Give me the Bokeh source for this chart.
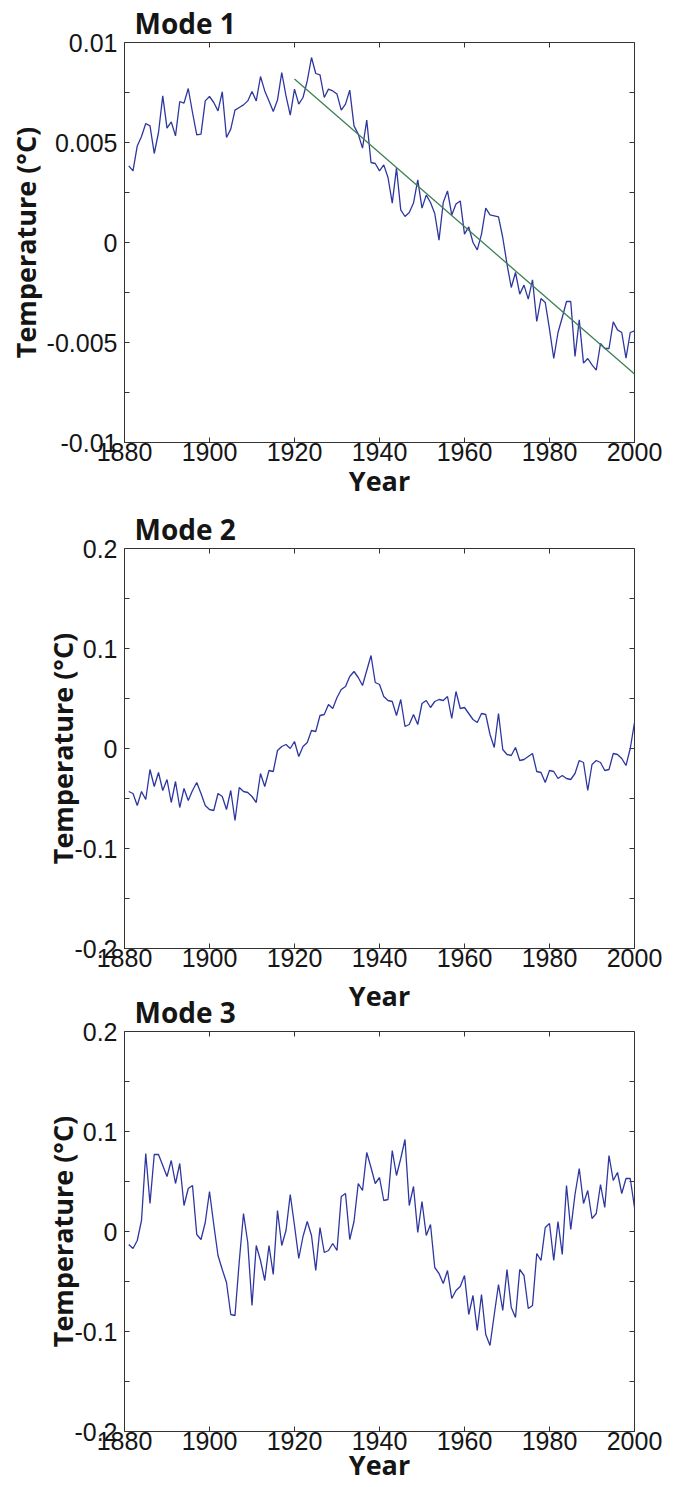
from math import pi
from bokeh.plotting import figure
from bokeh.layouts import column
from bokeh.models import Range1d, FixedTicker, Title
from bokeh.embed import file_html
from bokeh.resources import INLINE

# ---------------- data ----------------
years = list(range(1881, 2001))

mode1 = [
    0.00383, 0.00358, 0.00483, 0.00530, 0.00595, 0.00583, 0.00445, 0.00550, 0.00733, 0.00572,
    0.00603, 0.00533, 0.00705, 0.00697, 0.00770, 0.00650, 0.00538, 0.00542, 0.00708, 0.00730,
    0.00700, 0.00658, 0.00753, 0.00525, 0.00567, 0.00662, 0.00675, 0.00688, 0.00708, 0.00755,
    0.00708, 0.00830, 0.00758, 0.00708, 0.00655, 0.00712, 0.00850, 0.00733, 0.00637, 0.00767,
    0.00692, 0.00725, 0.00808, 0.00925, 0.00845, 0.00838, 0.00725, 0.00767, 0.00758, 0.00742,
    0.00662, 0.00692, 0.00762, 0.00583, 0.00542, 0.00472, 0.00612, 0.00400, 0.00395, 0.00358,
    0.00388, 0.00325, 0.00197, 0.00372, 0.00163, 0.00130, 0.00150, 0.00197, 0.00313, 0.00172,
    0.00237, 0.00200, 0.00145, 0.00012, 0.00200, 0.00258, 0.00138, 0.00192, 0.00208, 0.00042,
    0.00078, 0.00000, -0.00037, 0.00042, 0.00172, 0.00138, 0.00133, 0.00128, 0.00025, -0.00108,
    -0.00225, -0.00150, -0.00258, -0.00213, -0.00283, -0.00187, -0.00395, -0.00280, -0.00300, -0.00433,
    -0.00580, -0.00450, -0.00375, -0.00295, -0.00295, -0.00570, -0.00387, -0.00603, -0.00580, -0.00612,
    -0.00638, -0.00505, -0.00530, -0.00530, -0.00397, -0.00437, -0.00450, -0.00578, -0.00450, -0.00442,
]

trend_years = [1920, 2000]
trend_mode1 = [0.00817, -0.00658]

mode2 = [
    -0.043, -0.045, -0.057, -0.043, -0.051, -0.021, -0.038, -0.024, -0.042, -0.031,
    -0.054, -0.033, -0.059, -0.040, -0.052, -0.042, -0.034, -0.045, -0.057, -0.061,
    -0.062, -0.045, -0.048, -0.061, -0.042, -0.072, -0.039, -0.043, -0.044, -0.048,
    -0.054, -0.025, -0.038, -0.022, -0.023, -0.002, 0.002, 0.004, 0.000, 0.007,
    -0.008, 0.002, 0.006, 0.018, 0.017, 0.033, 0.034, 0.044, 0.040, 0.051,
    0.059, 0.062, 0.072, 0.077, 0.071, 0.063, 0.078, 0.093, 0.066, 0.064,
    0.052, 0.048, 0.047, 0.033, 0.049, 0.022, 0.024, 0.034, 0.024, 0.045,
    0.048, 0.041, 0.047, 0.049, 0.048, 0.052, 0.030, 0.057, 0.040, 0.041,
    0.035, 0.029, 0.026, 0.035, 0.034, 0.014, 0.001, 0.035, -0.001, -0.006,
    -0.007, 0.001, -0.012, -0.011, -0.008, -0.005, -0.023, -0.024, -0.034, -0.022,
    -0.023, -0.030, -0.027, -0.030, -0.031, -0.025, -0.012, -0.014, -0.042, -0.016,
    -0.012, -0.014, -0.022, -0.021, -0.005, -0.006, -0.010, -0.017, 0.000, 0.026,
]

mode3 = [
    -0.013, -0.017, -0.009, 0.011, 0.078, 0.028, 0.077, 0.077, 0.066, 0.055,
    0.071, 0.048, 0.068, 0.026, 0.043, 0.046, -0.003, -0.008, 0.009, 0.040,
    0.007, -0.024, -0.038, -0.051, -0.083, -0.084, -0.030, 0.018, -0.011, -0.074,
    -0.014, -0.029, -0.049, -0.014, -0.043, 0.021, -0.014, 0.001, 0.037, 0.006,
    -0.027, -0.005, 0.010, -0.004, -0.039, 0.004, -0.021, -0.019, -0.012, -0.019,
    0.035, 0.038, -0.008, 0.010, 0.048, 0.041, 0.079, 0.064, 0.048, 0.054,
    0.031, 0.032, 0.081, 0.056, 0.073, 0.092, 0.026, 0.045, -0.001, 0.030,
    -0.004, 0.007, -0.036, -0.042, -0.052, -0.039, -0.067, -0.059, -0.055, -0.044,
    -0.083, -0.064, -0.099, -0.063, -0.103, -0.114, -0.083, -0.053, -0.079, -0.038,
    -0.076, -0.086, -0.038, -0.044, -0.077, -0.074, -0.022, -0.029, 0.004, 0.008,
    -0.029, 0.010, -0.023, 0.046, 0.002, 0.037, 0.063, 0.028, 0.041, 0.013,
    0.018, 0.047, 0.024, 0.076, 0.051, 0.059, 0.038, 0.053, 0.053, 0.024,
]

titles = ["Mode 1", "Mode 2", "Mode 3"]
x_label = "Year"
y_label = "Temperature (°C)"

x_ticks = [1880, 1900, 1920, 1940, 1960, 1980, 2000]
x_tick_labels = ["1880", "1900", "1920", "1940", "1960", "1980", "2000"]

y1_ticks = [-0.01, -0.005, 0.0, 0.005, 0.01]
y1_tick_labels = ["-0.01", "-0.005", "0", "0.005", "0.01"]
y1_minor = [-0.0075, -0.0025, 0.0025, 0.0075]

y23_ticks = [-0.2, -0.1, 0.0, 0.1, 0.2]
y23_tick_labels = ["-0.2", "-0.1", "0", "0.1", "0.2"]
y23_minor = [-0.15, -0.05, 0.05, 0.15]

# ---------------- style ----------------
LINE_BLUE = "#2E37A0"
TREND_GREEN = "#3E8052"
FRAME = "#333333"
TEXT = "#151515"
TICK_FONT = "Liberation Sans"
LABEL_FONT = "Open Sans"


def style_axis(ax, ticks, labels, minor, standoff):
    ax.ticker = FixedTicker(ticks=ticks, minor_ticks=minor)
    ax.axis_line_color = None
    ax.major_tick_in = 5
    ax.major_tick_out = 0
    ax.minor_tick_in = 5
    ax.minor_tick_out = 0
    ax.major_tick_line_color = FRAME
    ax.minor_tick_line_color = FRAME
    ax.major_label_overrides = {t: l for t, l in zip(ticks, labels)}
    ax.major_label_text_font = TICK_FONT
    ax.major_label_text_font_size = "25px"
    ax.major_label_text_color = TEXT
    ax.major_label_standoff = standoff


def style_label(ax, text, standoff):
    ax.axis_label = text
    ax.axis_label_text_font = LABEL_FONT
    ax.axis_label_text_font_style = "bold"
    ax.axis_label_text_font_size = "27px"
    ax.axis_label_text_color = TEXT
    ax.axis_label_standoff = standoff


def title_obj(text, standoff, size="28px", align="left"):
    return Title(text=text, align=align, offset=10 if align == "left" else 0,
                 standoff=standoff, text_font=LABEL_FONT, text_font_style="bold",
                 text_font_size=size, text_color=TEXT)


def make_panel(values, yticks, ylabels, yminor, border_top, border_bottom,
               xlabel_standoff, ylabel_standoff, trend=None):
    lo, hi = yticks[0], yticks[-1]
    p = figure(width=670, height=border_top + 400 + border_bottom,
               x_range=Range1d(x_ticks[0], x_ticks[-1]), y_range=Range1d(lo, hi),
               output_backend="svg", toolbar_location=None,
               min_border_left=124, min_border_right=36,
               min_border_top=border_top, min_border_bottom=border_bottom,
               outline_line_color=FRAME, outline_line_width=1,
               background_fill_color="white", border_fill_color="white")
    p.grid.visible = False

    style_axis(p.xaxis[0], x_ticks, x_tick_labels, [], 0)
    style_axis(p.yaxis[0], yticks, ylabels, yminor, 7)
    if xlabel_standoff is not None:
        style_label(p.xaxis[0], x_label, xlabel_standoff)
    style_label(p.yaxis[0], y_label, ylabel_standoff)

    # inward ticks on the top and right sides of the box (half of each dash is clipped)
    p.scatter(x_ticks, [hi] * len(x_ticks), marker="dash", size=10, angle=pi / 2,
              line_color=FRAME, line_width=1)
    rt = list(yticks) + list(yminor)
    p.scatter([x_ticks[-1]] * len(rt), rt, marker="dash", size=10,
              line_color=FRAME, line_width=1)

    p.line(years, values, line_color=LINE_BLUE, line_width=1.3)
    if trend is not None:
        p.line(trend[0], trend[1], line_color=TREND_GREEN, line_width=1.3)
    return p


# panel 1: frame 42..442
p1 = make_panel(mode1, y1_ticks, y1_tick_labels, y1_minor, 42, 61, -2, 0,
                trend=(trend_years, trend_mode1))
p1.add_layout(title_obj(titles[0], 2), "above")

# panel 2: frame 548..948 (its "Year" is drawn in the strip above panel 3)
p2 = make_panel(mode2, y23_ticks, y23_tick_labels, y23_minor, 45, 28, None, -10)
p2.add_layout(title_obj(titles[1], 2), "above")

# panel 3: frame 1031..1431
p3 = make_panel(mode3, y23_ticks, y23_tick_labels, y23_minor, 55, 55, -7, -10)
p3.add_layout(title_obj(titles[2], 2), "above")
p3.add_layout(title_obj(x_label, -48, size="27px", align="center"), "above")

layout = column(p1, p2, p3, spacing=0)
open("out.html", "w").write(file_html(layout, INLINE))
